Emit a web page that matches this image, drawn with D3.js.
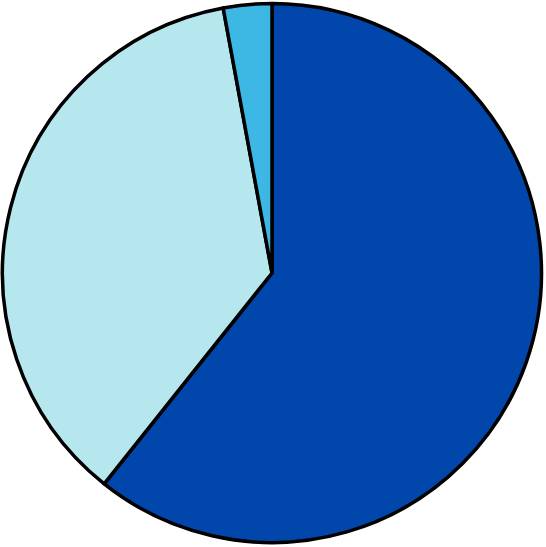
<!DOCTYPE html>
<html>
<head>
<meta charset="utf-8">
<script src="https://cdn.jsdelivr.net/npm/d3@7"></script>
<style>
  html, body { margin: 0; padding: 0; background: #fff; }
</style>
</head>
<body>
<div id="chart"></div>
<script>
// Slice data (clockwise from 12 o'clock)
var categories = ["A", "B", "C"];
var values = [60.7, 36.4, 2.9];
var colors = ["#0046AB", "#B6E7EE", "#3DB7E4"];

var width = 546, height = 547;
var cx = 272, cy = 273, radius = 269.5;

var svg = d3.select("#chart")
            .append("svg")
            .attr("width", width)
            .attr("height", height)
            .style("display", "block")
            .append("g")
            .attr("transform", "translate(" + cx + "," + cy + ")");

var color_scale = d3.scaleOrdinal().domain(categories).range(colors);

var pie = d3.pie().sort(null).value(function(d, i) { return values[i]; });
var arc = d3.arc().innerRadius(0).outerRadius(radius);

svg.selectAll("path")
   .data(pie(categories))
   .enter().append("path")
   .attr("d", arc)
   .attr("fill", function(d) { return color_scale(d.data); })
   .attr("stroke", "#000")
   .attr("stroke-width", 3.5)
   .attr("stroke-linejoin", "round");
</script>
</body>
</html>
